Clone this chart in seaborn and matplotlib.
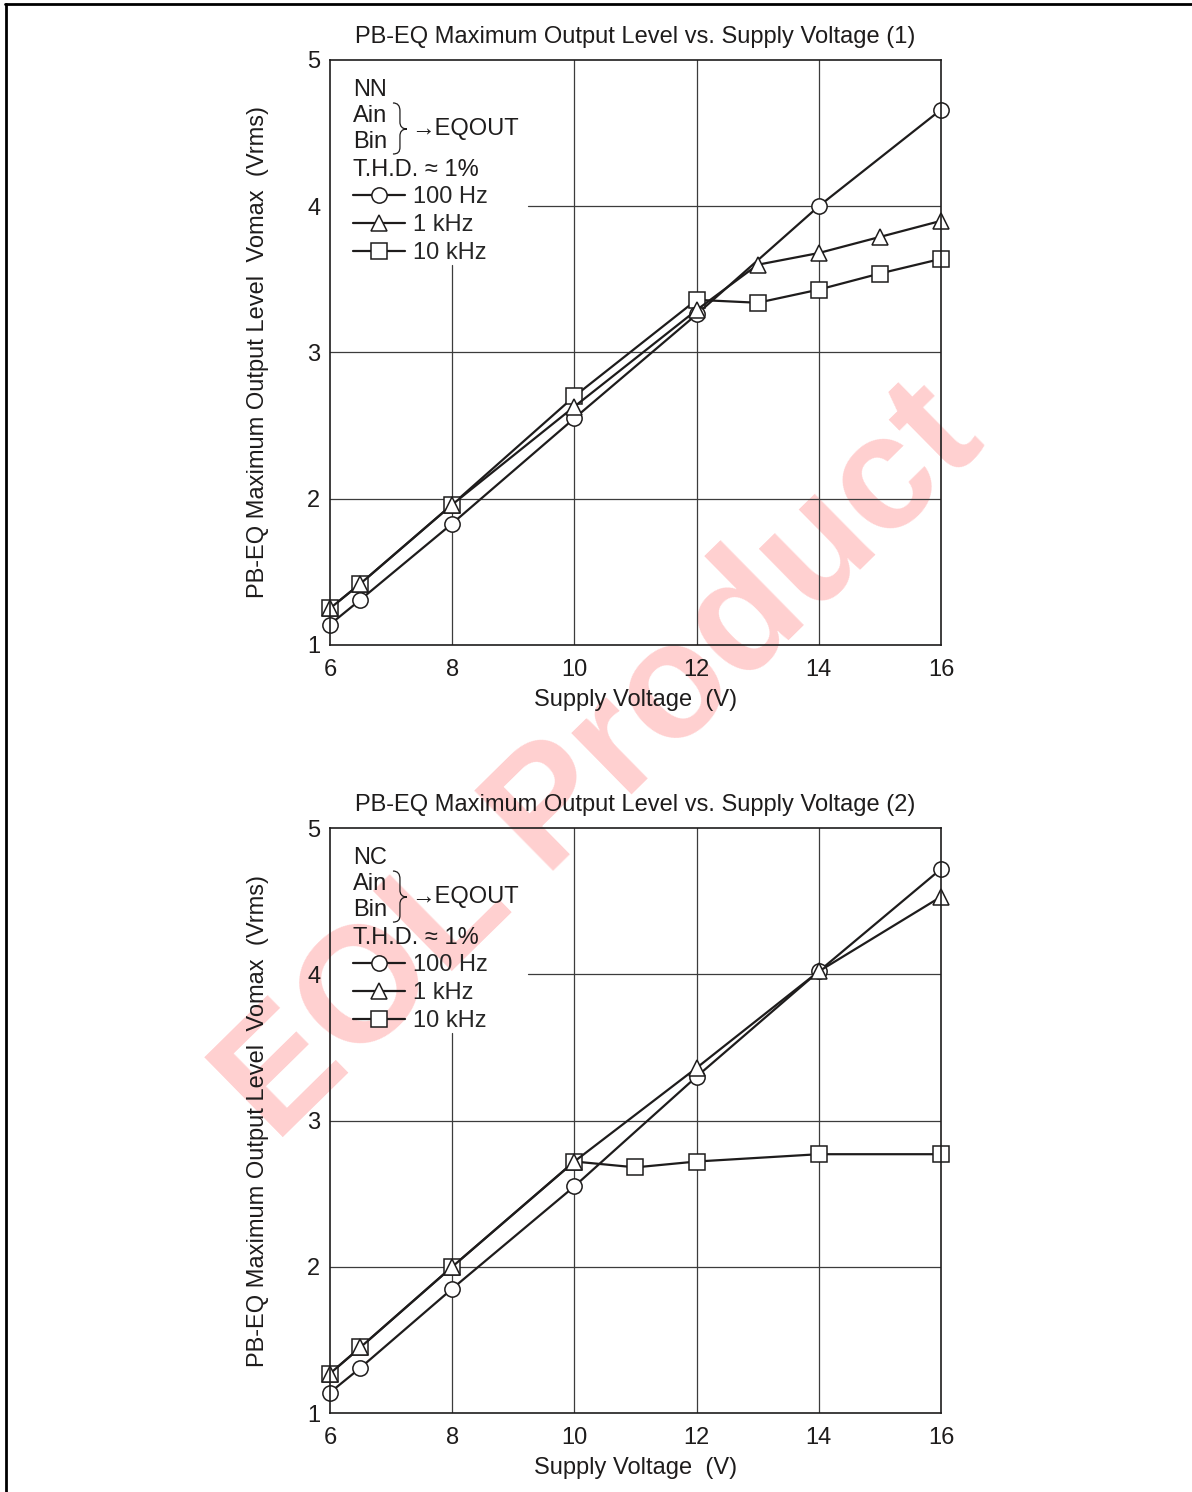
import numpy as np
import pandas as pd
import seaborn as sns
import matplotlib.pyplot as plt
from matplotlib.patches import PathPatch
from matplotlib.path import Path
from matplotlib.lines import Line2D

# Values (Vrms vs supply voltage)
freqs = ["100 Hz", "1 kHz", "10 kHz"]

# chart (1): NN
nn_v_100 = [6, 6.5, 8, 10, 12, 14, 16]
nn_vo_100 = [1.14, 1.31, 1.83, 2.55, 3.26, 4.00, 4.66]
nn_v_1k = [6, 6.5, 8, 10, 12, 13, 14, 15, 16]
nn_vo_1k = [1.25, 1.42, 1.96, 2.63, 3.29, 3.60, 3.68, 3.79, 3.90]
nn_v_10k = [6, 6.5, 8, 10, 12, 13, 14, 15, 16]
nn_vo_10k = [1.25, 1.42, 1.96, 2.70, 3.36, 3.34, 3.43, 3.54, 3.64]

# chart (2): NC
nc_v_100 = [6, 6.5, 8, 10, 12, 14, 16]
nc_vo_100 = [1.14, 1.31, 1.85, 2.55, 3.30, 4.02, 4.72]
nc_v_1k = [6, 6.5, 8, 10, 12, 14, 16]
nc_vo_1k = [1.27, 1.45, 2.00, 2.72, 3.36, 4.02, 4.53]
nc_v_10k = [6, 6.5, 8, 10, 11, 12, 14, 16]
nc_vo_10k = [1.27, 1.45, 2.00, 2.72, 2.68, 2.72, 2.77, 2.77]

x_ticks = [6, 8, 10, 12, 14, 16]
y_ticks = [1, 2, 3, 4, 5]


def make_df(v_lists, vo_lists):
    parts = []
    for f, v, vo in zip(freqs, v_lists, vo_lists):
        parts.append(pd.DataFrame({"V": v, "Vo": vo, "freq": f}))
    return pd.concat(parts, ignore_index=True)


df_nn = make_df([nn_v_100, nn_v_1k, nn_v_10k], [nn_vo_100, nn_vo_1k, nn_vo_10k])
df_nc = make_df([nc_v_100, nc_v_1k, nc_v_10k], [nc_vo_100, nc_vo_1k, nc_vo_10k])

sns.set_style("white")
plt.rcParams["font.family"] = ["Liberation Sans", "DejaVu Sans"]
plt.rcParams["font.size"] = 17
INK = "#1e1c1c"
FS = 17

fig = plt.figure(figsize=(11.92, 14.92), dpi=100)
ax1 = fig.add_axes([0.2768, 0.5677, 0.5126, 0.3921])
ax2 = fig.add_axes([0.2768, 0.0529, 0.5126, 0.3921])

markers = {"100 Hz": "o", "1 kHz": "^", "10 kHz": "s"}
# squares at the back, triangles in front (as on the sheet)
layer = {"s": 2.1, "o": 2.2, "^": 2.3}

# key area (axes fraction) where the grid is left out
key_w, key_y0 = 0.324, 0.65


def px(ax, dx, dy):
    # offset in pixels from the axes' top-left corner -> axes fraction
    w, h = 611.0, 585.0
    return dx / w, 1 - dy / h


def draw(ax, df, title, mode):
    sns.lineplot(data=df, x="V", y="Vo", style="freq", style_order=freqs,
                 markers=markers, dashes=False, color=INK, linewidth=1.6,
                 markersize=11, markerfacecolor="white", markeredgecolor=INK,
                 markeredgewidth=1.1, estimator=None, sort=False, legend=False,
                 clip_on=False, ax=ax)
    data_lines = list(ax.lines)
    for ln in data_lines:
        ln.set_zorder(layer[ln.get_marker()])
    ax.patch.set_visible(False)
    ax.set_xlim(6, 16)
    ax.set_ylim(1, 5)
    ax.set_xticks(x_ticks)
    ax.set_yticks(y_ticks)

    # grid, broken where the key sits
    for yv in y_ticks[1:-1]:
        frac = (yv - 1) / 4
        ax.axhline(yv, xmin=key_w if frac >= key_y0 else 0, color="#3c3c3c",
                   linewidth=0.9, zorder=1)
    for xv in x_ticks[1:-1]:
        frac = (xv - 6) / 10
        ax.axvline(xv, ymax=key_y0 if frac <= key_w else 1, color="#3c3c3c",
                   linewidth=0.9, zorder=1)

    for s in ax.spines.values():
        s.set_color(INK)
        s.set_linewidth(1.2)
        s.set_visible(True)
    ax.tick_params(length=0, labelsize=FS, colors=INK)
    ax.tick_params(axis="x", pad=10)
    ax.tick_params(axis="y", pad=7)
    ax.set_title(title, fontsize=FS, pad=12.5, color=INK)
    ax.set_xlabel("Supply Voltage  (V)", fontsize=FS, color=INK)
    ax.set_ylabel("PB-EQ Maximum Output Level  Vomax  (Vrms)", fontsize=FS, color=INK)
    ax.xaxis.set_label_coords(0.5, -0.075)
    ax.yaxis.set_label_coords(-0.100, 0.5)

    kw = dict(transform=ax.transAxes, va="center", ha="left", fontsize=FS, color=INK)
    ax.text(*px(ax, 23, 30), mode, **kw)
    ax.text(*px(ax, 23, 56), "Ain", **kw)
    ax.text(*px(ax, 23, 82), "Bin", **kw)
    ax.text(*px(ax, 81, 69), "\u2192EQOUT", **kw)
    ax.text(*px(ax, 23, 110), "T.H.D. \u2248 1%", **kw)

    # thin curly brace joining Ain / Bin
    pts = [(63, 43), (68, 43), (70, 46), (70, 51), (70, 62), (70, 66), (72, 69), (77, 69),
           (72, 69), (70, 72), (70, 76), (70, 87), (70, 92), (68, 94), (63, 94)]
    codes = [Path.MOVETO, Path.CURVE4, Path.CURVE4, Path.CURVE4, Path.LINETO,
             Path.CURVE4, Path.CURVE4, Path.CURVE4, Path.CURVE4, Path.CURVE4, Path.CURVE4,
             Path.LINETO, Path.CURVE4, Path.CURVE4, Path.CURVE4]
    brace = Path([px(ax, a, b) for a, b in pts], codes)
    ax.add_patch(PathPatch(brace, transform=ax.transAxes, facecolor="none",
                           edgecolor=INK, linewidth=0.9, clip_on=False))

    handles = sorted(data_lines, key=lambda l: ["o", "^", "s"].index(l.get_marker()))
    ax.legend(handles=handles, labels=freqs, loc="upper left",
              bbox_to_anchor=px(ax, 23, 126), frameon=False, fontsize=FS,
              handlelength=2.2, handletextpad=0.35, labelspacing=0.26,
              borderpad=0, borderaxespad=0)


draw(ax1, df_nn, "PB-EQ Maximum Output Level vs. Supply Voltage (1)", "NN")
draw(ax2, df_nc, "PB-EQ Maximum Output Level vs. Supply Voltage (2)", "NC")

# page border (left and top edge of the scanned sheet)
fig.add_artist(Line2D([0.005, 0.005], [0, 0.997], transform=fig.transFigure,
                      color="black", linewidth=2))
fig.add_artist(Line2D([0.004, 1.0], [0.997, 0.997], transform=fig.transFigure,
                      color="black", linewidth=2))

# watermark, underneath the chart
fig.text(0.505, 0.488, "EOL Product", rotation=44.5, ha="center", va="center",
         fontsize=118, fontweight="bold", color="red", alpha=0.19, zorder=-1)

fig.savefig("out.png", dpi=100)
